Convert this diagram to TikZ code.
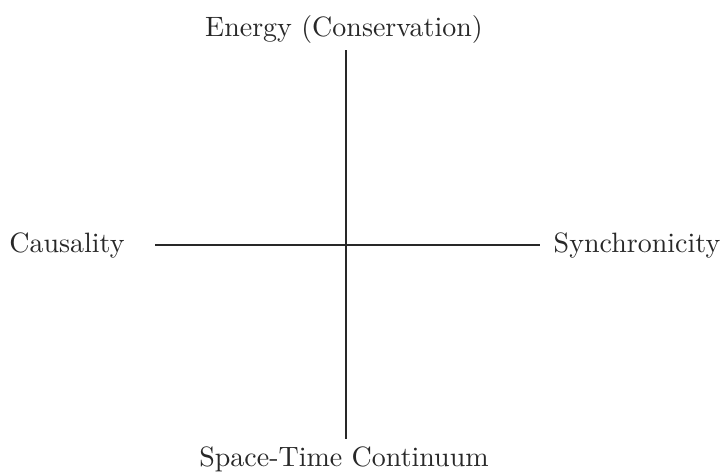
\documentclass[tikz,border=0pt]{standalone}
\usepackage{tikz}
\usetikzlibrary{calc, positioning}
\definecolor{inkgray}{RGB}{40,40,40}
\tikzset{
  axislabel/.style={text=inkgray, font=\fontsize{10.5}{12}\selectfont, inner sep=0pt},
  axisline/.style={draw=inkgray, line width=0.55pt}
}
\begin{document}
\begin{tikzpicture}[x=0.375pt, y=-0.375pt]
        \useasboundingbox (0,0) rectangle (725,475);

        \coordinate (top) at (346,50);
        \coordinate (bottom) at (346,439);
        \coordinate (left) at (155,245);
        \coordinate (right) at (540,245);

        \node[axislabel] (energy) at (344,29) {Energy (Conservation)};
        \node[axislabel] (spacetime) at (344,459) {Space-Time Continuum};
        \node[axislabel] (causality) at (67,245) {Causality};
        \node[axislabel] (synchro) at (637,245) {Synchronicity};

        \draw[axisline] (top) -- (bottom);
        \draw[axisline] (left) -- (right);
    \end{tikzpicture}
\end{document}
